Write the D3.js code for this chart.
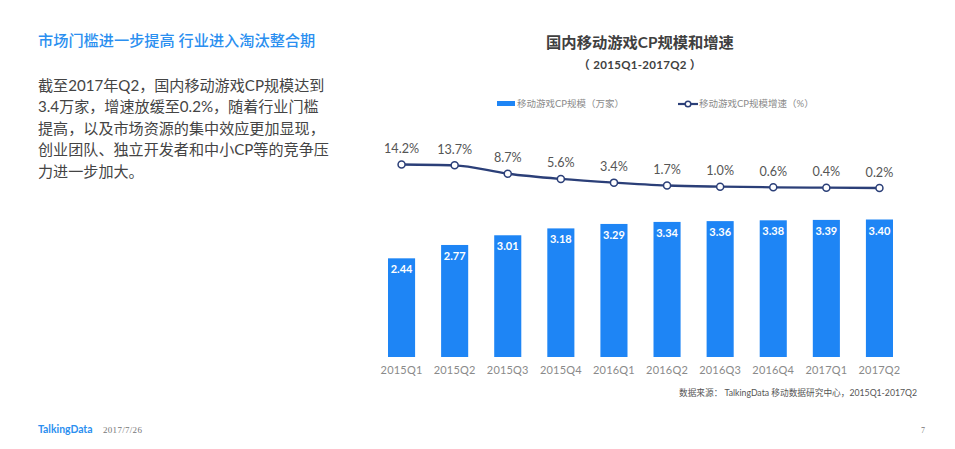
<!DOCTYPE html>
<html><head><meta charset="utf-8">
<script src="https://cdn.jsdelivr.net/npm/d3@7"></script>
<style>
html,body{margin:0;padding:0;background:#fff}
svg{display:block}
text{font-family:Lato,"Noto Sans CJK SC",sans-serif}
</style></head><body>
<svg id="c" width="955" height="449"></svg>
<script>
const categories=["2015Q1","2015Q2","2015Q3","2015Q4","2016Q1","2016Q2","2016Q3","2016Q4","2017Q1","2017Q2"];
const cpCount=[2.44,2.77,3.01,3.18,3.29,3.34,3.36,3.38,3.39,3.40];
const cpGrowth=[14.2,13.7,8.7,5.6,3.4,1.7,1.0,0.6,0.4,0.2];
const bodyLines=["截至2017年Q2，国内移动游戏CP规模达到","3.4万家，增速放缓至0.2%，随着行业门槛","提高，以及市场资源的集中效应更加显现，","创业团队、独立开发者和中小CP等的竞争压","力进一步加大。"];
const svg=d3.select("#c");
const blue="#1e85f5",navy="#2b3f78",grey="#666";
function T(x,y,s,size,fill,anchor,weight,parent){
  return (parent||svg).append("text").attr("x",x).attr("y",y).attr("font-size",size).attr("fill",fill)
   .attr("text-anchor",anchor||"start").attr("font-weight",weight||400).text(s);
}
T(38,45.5,"市场门槛进一步提高 行业进入淘汰整合期",15.2,"#2b8ff0","start",500);
bodyLines.forEach((l,i)=>T(38,90.5+i*21.6,l,15.1,"#444"));
T(640,48,"国内移动游戏CP规模和增速",15.3,"#404040","middle",700);
T(640,69,"（ 2015Q1-2017Q2 ）",11.5,"#404040","middle",700).style("letter-spacing","0.3px");
// legend
svg.append("rect").attr("x",497).attr("y",101).attr("width",18).attr("height",5).attr("fill",blue);
T(517,107,"移动游戏CP规模（万家）",9.5,"#8a8a8a");
svg.append("line").attr("x1",678).attr("x2",698).attr("y1",104).attr("y2",104).attr("stroke",navy).attr("stroke-width",2.2);
svg.append("circle").attr("cx",688).attr("cy",104).attr("r",2.8).attr("fill","#fff").attr("stroke",navy).attr("stroke-width",1.5);
T(699,107,"移动游戏CP规模增速（%）",9.5,"#8a8a8a");
// scales
const x=d3.scaleBand().domain(categories).range([375,906]).paddingInner(0.49).paddingOuter(0.245);
const y=d3.scaleLinear().domain([0,3.4]).range([357,219.5]);
const yg=d3.scaleLinear().domain([0.2,14.2]).range([188,164.5]);
const cx=d=>x(d)+x.bandwidth()/2;
svg.selectAll("rect.bar").data(categories).join("rect").attr("class","bar")
 .attr("x",d=>x(d)).attr("width",x.bandwidth())
 .attr("y",(d,i)=>y(cpCount[i])).attr("height",(d,i)=>357-y(cpCount[i])).attr("fill",blue);
svg.selectAll("text.bv").data(categories).join("text").attr("class","bv")
 .attr("x",cx).attr("y",(d,i)=>y(cpCount[i])+15).attr("text-anchor","middle")
 .attr("font-size",11).attr("font-weight",700).attr("fill","#fff").text((d,i)=>cpCount[i].toFixed(2));
// axis
const ax=svg.append("g").attr("transform","translate(0,357)").call(d3.axisBottom(x).tickSize(0).tickPadding(9));
ax.select(".domain").remove();
ax.selectAll("text").attr("font-size",11).attr("fill","#8a8a8a").style("font-family",'Lato,"Noto Sans CJK SC",sans-serif').style("letter-spacing","0.2px");
// line
const ln=d3.line().x((d,i)=>cx(categories[i])).y(d=>yg(d)).curve(d3.curveMonotoneX);
svg.append("path").datum(cpGrowth).attr("d",ln).attr("fill","none").attr("stroke",navy).attr("stroke-width",2.3);
svg.selectAll("circle.pt").data(categories).join("circle").attr("class","pt")
 .attr("cx",cx).attr("cy",(d,i)=>yg(cpGrowth[i])).attr("r",3.5).attr("fill","#fff").attr("stroke",navy).attr("stroke-width",1.5);
svg.selectAll("text.gv").data(categories).join("text").attr("class","gv")
 .attr("x",cx).attr("y",(d,i)=>yg(cpGrowth[i])-11.5).attr("text-anchor","middle")
 .attr("font-size",12.6).attr("fill","#555").text((d,i)=>cpGrowth[i].toFixed(1)+"%");
T(917,396,"数据来源： TalkingData 移动数据研究中心，2015Q1-2017Q2",8.7,"#555","end");
T(38,433,"TalkingData",10.4,"#2b8ff0","start",700);
T(103,433,"2017/7/26",9,"#777").style("font-family",'"Liberation Serif",serif').style("letter-spacing","0.3px");
T(923,433,"7",8,"#777","middle").style("font-family",'"Liberation Serif",serif');
</script></body></html>
